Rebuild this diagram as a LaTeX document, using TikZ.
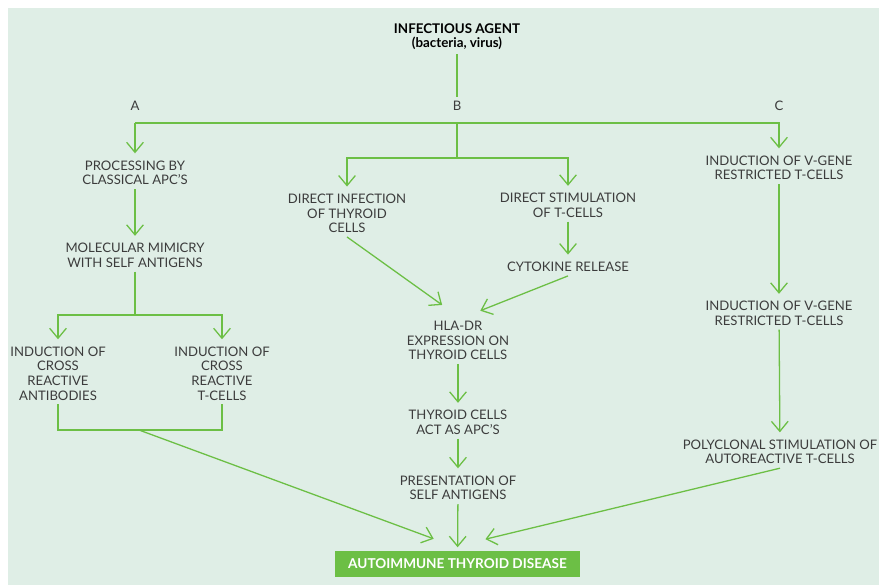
\documentclass[tikz,border=0pt]{standalone}
\usepackage{fontspec}
\setmainfont{Lato}
\usetikzlibrary{arrows.meta}
\definecolor{bgmint}{HTML}{DFEEE6}
\definecolor{leaf}{HTML}{6CBF45}
\definecolor{ink}{HTML}{3C3C3C}
\tikzset{
  txt/.style={text=ink, align=center, inner sep=0pt, outer sep=3.5pt,
    font=\fontsize{11.2}{12.4}\selectfont},
  head/.style={txt, text=black, font=\bfseries\fontsize{11.4}{12}\selectfont},
  box/.style={fill=leaf, text=white, inner sep=0pt, minimum width=7.35cm,
    minimum height=0.78cm, font=\bfseries\fontsize{11.6}{12}\selectfont},
  ln/.style={draw=leaf, line width=1.1pt},
  arr/.style={ln, shorten >=3pt, -{Straight Barb[length=3mm,width=5mm]}}
}
\begin{document}
\begin{tikzpicture}[x=0.03cm, y=-0.03cm]
	\useasboundingbox (0,0) rectangle (879,586);
	\fill[bgmint] (8,8) rectangle (879,585);
	\node[head] (agent) at (457,37) {INFECTIOUS AGENT\\(bacteria, virus)};
	\node[txt] (labA) at (135,106) {A};
	\node[txt] (labB) at (457,106) {B};
	\node[txt] (labC) at (779,106) {C};
	% route A
	\node[txt] (proc) at (135,173) {PROCESSING BY\\CLASSICAL APC’S};
	\node[txt] (mimic) at (135,255.5) {MOLECULAR MIMICRY\\WITH SELF ANTIGENS};
	\node[txt] (antib) at (58,373.5) {INDUCTION OF\\CROSS\\REACTIVE\\ANTIBODIES};
	\node[txt] (tcross) at (222,373.5) {INDUCTION OF\\CROSS\\REACTIVE\\T-CELLS};
	% route B
	\node[txt] (dinf) at (347,213.5) {DIRECT INFECTION\\OF THYROID\\CELLS};
	\node[txt] (dstim) at (568,205.5) {DIRECT STIMULATION\\OF T-CELLS};
	\node[txt] (cyto) at (568,267) {CYTOKINE RELEASE};
	\node[txt] (hla) at (458,340.5) {HLA-DR\\EXPRESSION ON\\THYROID CELLS};
	\node[txt] (apc) at (458,422.5) {THYROID CELLS\\ACT AS APC’S};
	\node[txt] (pres) at (458,488) {PRESENTATION OF\\SELF ANTIGENS};
	% route C
	\node[txt] (vg1) at (779,168) {INDUCTION OF V-GENE\\RESTRICTED T-CELLS};
	\node[txt] (vg2) at (779,313.5) {INDUCTION OF V-GENE\\RESTRICTED T-CELLS};
	\node[txt] (poly) at (780,452) {POLYCLONAL STIMULATION OF\\AUTOREACTIVE T-CELLS};
	\node[box] (disease) at (457.5,564) {AUTOIMMUNE THYROID DISEASE};
	\coordinate (jA) at (135,123);
	\coordinate (jB) at (457,123);
	\coordinate (jB2) at (457,158);
	\coordinate (jM) at (135,315);
	\coordinate (jAB) at (139,430);
	\coordinate (tipHL) at (445,307);
	\coordinate (tipHR) at (477,312);
	\coordinate (tipL) at (437,540);
	\coordinate (tipR) at (482,540);
	\draw[ln] (agent) -- (labB);
	\draw[arr] (jA) -| (vg1);
	\draw[arr] (jA) -- (proc);
	\draw[arr] (proc) -- (mimic);
	\draw[ln] (mimic) -- (jM);
	\draw[arr] (jM) -| (antib);
	\draw[arr] (jM) -| (tcross);
	\draw[ln] (antib) |- (jAB) -| (tcross);
	\draw[arr] (jAB) -- (tipL);
	\draw[ln] (jB) -- (jB2);
	\draw[arr] (jB2) -| (dinf);
	\draw[arr] (jB2) -| (dstim);
	\draw[arr] (dstim) -- (cyto);
	\draw[arr] (dinf.south) -- (tipHL);
	\draw[arr] (cyto.south) -- (tipHR);
	\draw[arr] (hla) -- (apc);
	\draw[arr] (apc) -- (pres);
	\draw[arr] (pres) -- (disease);
	\draw[arr] (vg1) -- (vg2);
	\draw[arr] (vg2) -- (poly);
	\draw[arr] (poly.south) -- (tipR);
\end{tikzpicture}
\end{document}
